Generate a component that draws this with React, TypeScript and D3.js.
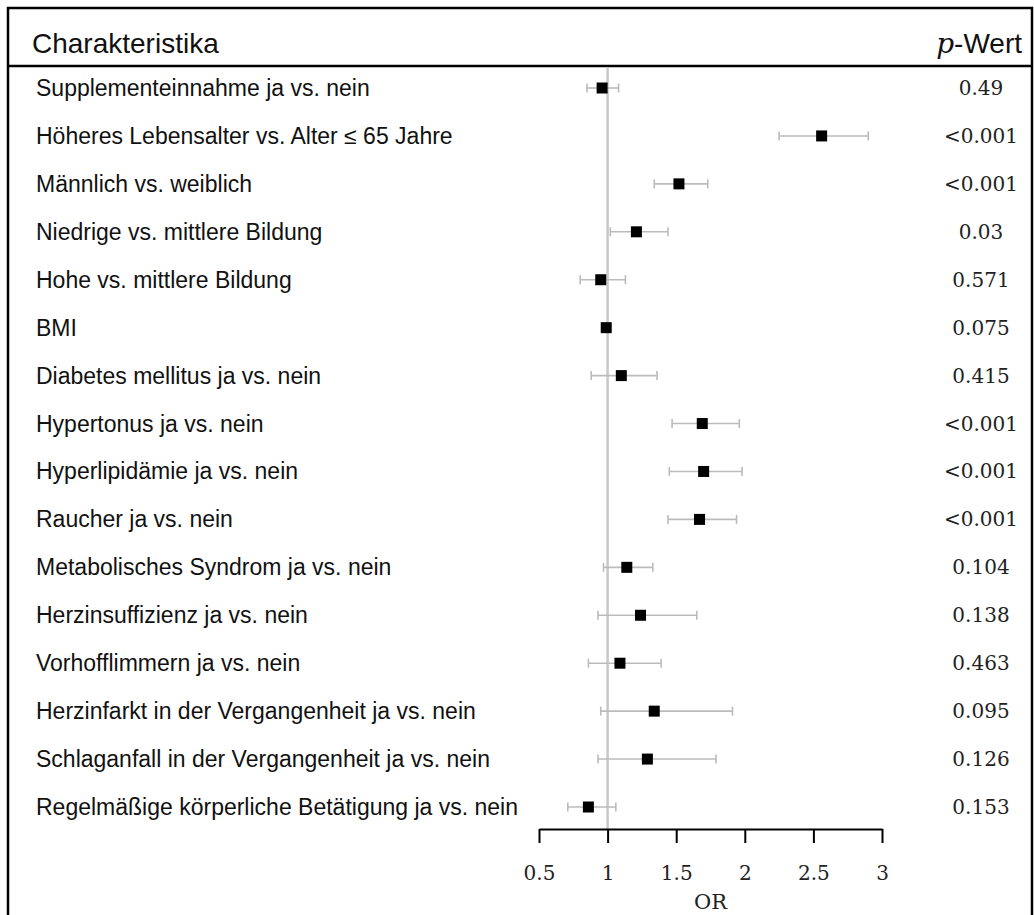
import React, { useEffect, useRef } from "react";
import * as d3 from "d3";

const labels = [
  "Supplementeinnahme ja vs. nein",
  "Höheres Lebensalter vs. Alter ≤ 65 Jahre",
  "Männlich vs. weiblich",
  "Niedrige vs. mittlere Bildung",
  "Hohe vs. mittlere Bildung",
  "BMI",
  "Diabetes mellitus ja vs. nein",
  "Hypertonus ja vs. nein",
  "Hyperlipidämie ja vs. nein",
  "Raucher ja vs. nein",
  "Metabolisches Syndrom ja vs. nein",
  "Herzinsuffizienz ja vs. nein",
  "Vorhofflimmern ja vs. nein",
  "Herzinfarkt in der Vergangenheit ja vs. nein",
  "Schlaganfall in der Vergangenheit ja vs. nein",
  "Regelmäßige körperliche Betätigung ja vs. nein",
];
const oddsRatio = [0.96, 2.56, 1.52, 1.21, 0.95, 0.99, 1.1, 1.69, 1.7, 1.67, 1.14, 1.24, 1.09, 1.34, 1.29, 0.86];
const ciLower = [0.85, 2.25, 1.34, 1.02, 0.8, 0.98, 0.88, 1.47, 1.45, 1.44, 0.97, 0.93, 0.86, 0.95, 0.93, 0.71];
const ciUpper = [1.08, 2.9, 1.73, 1.44, 1.13, 1.0, 1.36, 1.96, 1.98, 1.94, 1.33, 1.65, 1.39, 1.91, 1.79, 1.06];
const pValues = [
  "0.49", "<0.001", "<0.001", "0.03", "0.571", "0.075", "0.415", "<0.001",
  "<0.001", "<0.001", "0.104", "0.138", "0.463", "0.095", "0.126", "0.153",
];
const xTicks = [0.5, 1, 1.5, 2, 2.5, 3];

const W = 1034;
const H = 915;
const sans = "'Liberation Sans', Arial, sans-serif";
const serif = "'DejaVu Serif', serif";

export default function App() {
  const axisRef = useRef<SVGGElement>(null);

  const x = d3.scaleLinear().domain([0.5, 3]).range([539, 882]);
  const y = d3.scalePoint<string>().domain(labels).range([88, 807]);
  const axisY = 829;
  const sq = 11;

  useEffect(() => {
    // x axis, ticks pointing down
    const g = d3.select(axisRef.current!);
    g.selectAll("*").remove();
    g.call(
      d3.axisBottom(x).tickValues(xTicks).tickSize(14).tickSizeOuter(0).tickFormat((d) => String(d))
    );
    g.select(".domain").attr("stroke", "#000").attr("stroke-width", 2);
    g.selectAll(".tick line").attr("stroke", "#000").attr("stroke-width", 2);
    g.selectAll(".tick text")
      .attr("y", 44)
      .attr("dy", null)
      .attr("dominant-baseline", "central")
      .attr("fill", "#222")
      .style("font-family", serif)
      .style("font-size", "20px");
  }, []);

  return (
    <svg
      width={W}
      height={H}
      style={{ position: "absolute", left: 0, top: 0, background: "#fff" }}
    >
      {/* frame */}
      <rect x={8} y={8} width={1024} height={H + 20} fill="none" stroke="#000" strokeWidth={2.5} />
      {/* header */}
      <text x={32} y={43} dominantBaseline="central" fontFamily={sans} fontSize={28} fill="#111">
        Charakteristika
      </text>
      <text x={1022} y={43} dominantBaseline="central" textAnchor="end" fontSize={28} fill="#111">
        <tspan fontFamily={serif} fontStyle="italic">p</tspan>
        <tspan fontFamily={sans}>-Wert</tspan>
      </text>
      <line x1={8} x2={1032} y1={66} y2={66} stroke="#000" strokeWidth={2.5} />

      {/* reference line at OR = 1 */}
      <line x1={x(1)} x2={x(1)} y1={67} y2={axisY} stroke="#c8c8c8" strokeWidth={2.5} />

      {labels.map((lab, i) => {
        const cy = y(lab)!;
        return (
          <g key={lab}>
            <text x={36} y={cy} dominantBaseline="central" fontFamily={sans} fontSize={23} fill="#111">
              {lab}
            </text>
            <line x1={x(ciLower[i])} x2={x(ciUpper[i])} y1={cy} y2={cy} stroke="#bbb" strokeWidth={1.6} />
            <line x1={x(ciLower[i])} x2={x(ciLower[i])} y1={cy - 4.5} y2={cy + 4.5} stroke="#bbb" strokeWidth={1.6} />
            <line x1={x(ciUpper[i])} x2={x(ciUpper[i])} y1={cy - 4.5} y2={cy + 4.5} stroke="#bbb" strokeWidth={1.6} />
            <rect x={x(oddsRatio[i]) - sq / 2} y={cy - sq / 2} width={sq} height={sq} fill="#000" />
            <text
              x={981}
              y={cy}
              dominantBaseline="central"
              textAnchor="middle"
              fontFamily={serif}
              fontSize={20}
              fill="#222"
            >
              {pValues[i]}
            </text>
          </g>
        );
      })}

      <g ref={axisRef} transform={`translate(0,${axisY})`} />
      <text
        x={(x(0.5) + x(3)) / 2}
        y={902}
        dominantBaseline="central"
        textAnchor="middle"
        fontFamily={serif}
        fontSize={21}
        fill="#222"
      >
        OR
      </text>
    </svg>
  );
}
